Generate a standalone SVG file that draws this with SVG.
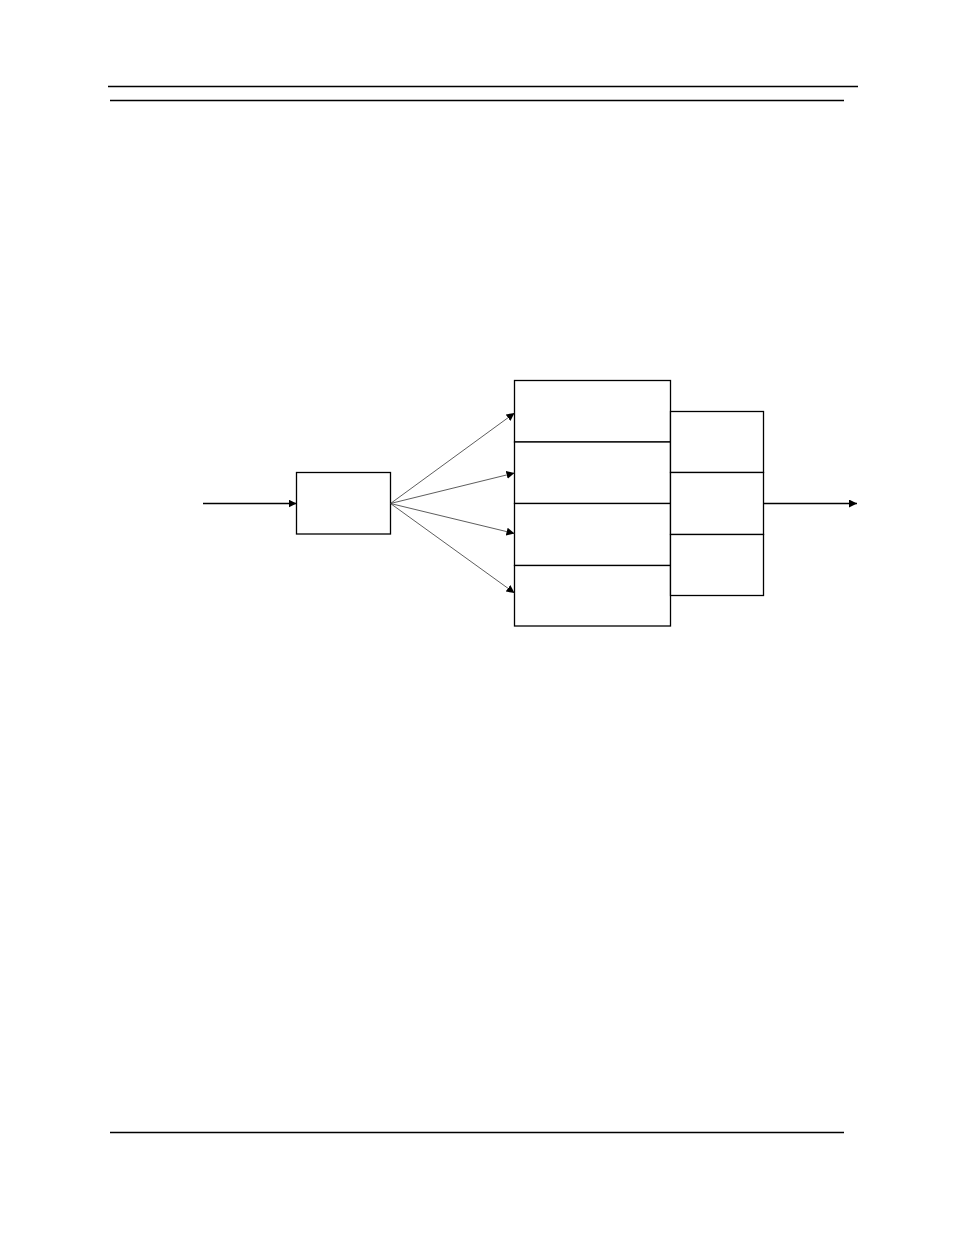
<svg xmlns="http://www.w3.org/2000/svg" width="954" height="1235" viewBox="0 0 954 1235">
<defs>
<marker id="ah" markerWidth="8" markerHeight="8" refX="8" refY="4" orient="auto" markerUnits="userSpaceOnUse">
<path d="M0,0 L8,4 L0,8 z" fill="#000"/>
</marker>
<style>
.box{fill:#fff;stroke:#000;stroke-width:1.3}
.rule{stroke:#000;stroke-width:1.3}
.c{stroke:#000;stroke-width:1.3;fill:none}
.f{stroke:#333;stroke-width:0.8;fill:none}
</style>
</defs>
<rect width="954" height="1235" fill="#fff"/>
<g id="page-rules">
<line class="rule" x1="108" y1="86.5" x2="858" y2="86.5"/>
<line class="rule" x1="110" y1="100.5" x2="844" y2="100.5"/>
<line class="rule" x1="110" y1="1132.5" x2="844" y2="1132.5"/>
</g>
<g id="splitter"><rect class="box" x="296.5" y="472.5" width="94" height="61.5"/></g>
<g id="stage1-a"><rect class="box" x="514.5" y="380.5" width="156" height="61.5"/></g>
<g id="stage1-b"><rect class="box" x="514.5" y="442" width="156" height="61.5"/></g>
<g id="stage1-c"><rect class="box" x="514.5" y="503.5" width="156" height="62"/></g>
<g id="stage1-d"><rect class="box" x="514.5" y="565.5" width="156" height="60.5"/></g>
<g id="stage2-a"><rect class="box" x="670.5" y="411.5" width="93" height="61"/></g>
<g id="stage2-b"><rect class="box" x="670.5" y="472.5" width="93" height="62"/></g>
<g id="stage2-c"><rect class="box" x="670.5" y="534.5" width="93" height="61"/></g>
<g id="connectors">
<line class="c" x1="203" y1="503.5" x2="296.5" y2="503.5" marker-end="url(#ah)"/>
<line class="f" x1="390.5" y1="503.5" x2="514.5" y2="413" marker-end="url(#ah)"/>
<line class="f" x1="390.5" y1="503.5" x2="514.5" y2="473" marker-end="url(#ah)"/>
<line class="f" x1="390.5" y1="503.5" x2="514.5" y2="533.5" marker-end="url(#ah)"/>
<line class="f" x1="390.5" y1="503.5" x2="514.5" y2="593" marker-end="url(#ah)"/>
<line class="c" x1="763.5" y1="503.5" x2="857" y2="503.5" marker-end="url(#ah)"/>
</g>
</svg>
